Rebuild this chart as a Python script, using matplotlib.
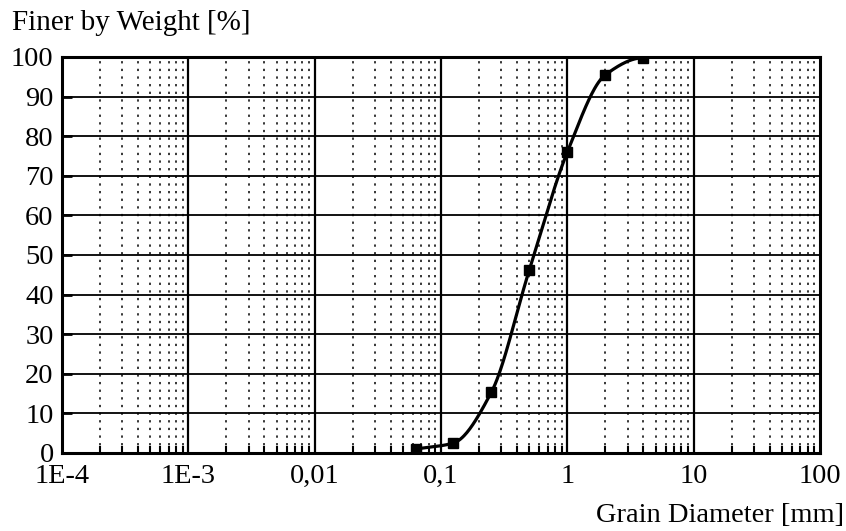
import numpy as np
import matplotlib.pyplot as plt
from matplotlib.ticker import FixedLocator, FixedFormatter, NullFormatter

plt.rcParams['font.family'] = ['Liberation Serif', 'DejaVu Serif']

# sieve data
grain_mm = [0.063, 0.125, 0.25, 0.5, 1.0, 2.0, 4.0]
finer_pct = [1.0, 2.5, 15.3, 46.2, 76.0, 95.5, 99.8]

x_ticks = [1e-4, 1e-3, 1e-2, 1e-1, 1, 10, 100]
x_labels = ["1E-4", "1E-3", "0,01", "0,1", "1", "10", "100"]
y_ticks = list(range(0, 101, 10))


def smooth_curve(xs, ys, n=40):
    """Monotone cubic (Fritsch-Carlson) through points in log-x space."""
    lx = np.log10(xs)
    y = np.asarray(ys, dtype=float)
    h = np.diff(lx)
    d = np.diff(y) / h
    m = np.zeros_like(y)
    m[0], m[-1] = d[0], 0.0
    for i in range(1, len(y) - 1):
        if d[i - 1] * d[i] <= 0:
            m[i] = 0
        else:
            w1 = 2 * h[i] + h[i - 1]
            w2 = h[i] + 2 * h[i - 1]
            m[i] = (w1 + w2) / (w1 / d[i - 1] + w2 / d[i])
    out_x, out_y = [], []
    for i in range(len(h)):
        t = np.linspace(0, 1, n)
        h00 = 2 * t**3 - 3 * t**2 + 1
        h10 = t**3 - 2 * t**2 + t
        h01 = -2 * t**3 + 3 * t**2
        h11 = t**3 - t**2
        yy = h00 * y[i] + h10 * h[i] * m[i] + h01 * y[i + 1] + h11 * h[i] * m[i + 1]
        out_x.extend(10 ** (lx[i] + t * h[i]))
        out_y.extend(yy)
    return np.array(out_x), np.array(out_y)


fig = plt.figure(figsize=(8.46, 5.31), dpi=100)
ax = fig.add_axes([62 / 846, 1 - 453 / 531, 758 / 846, 396 / 531])

ax.set_xscale('log')
ax.set_xlim(1e-4, 100)
ax.set_ylim(0, 100)

# grid
minors = [k * 10.0**e for e in range(-4, 2) for k in range(2, 10)]
for xv in x_ticks[1:-1]:
    ax.axvline(xv, color='black', lw=1.6, zorder=1)
for yv in y_ticks[1:-1]:
    ax.axhline(yv, color='black', lw=1.3, zorder=1)
for xv in minors:
    ax.axvline(xv, color='black', lw=1.1, ls=(0, (1.5, 3.5)), zorder=1)

cx, cy = smooth_curve(grain_mm, finer_pct)
ax.plot(cx, cy, color='black', lw=2.3, zorder=3)
ax.plot(grain_mm, finer_pct, ls='none', marker='s', ms=6.5, color='black', zorder=4)

ax.xaxis.set_major_locator(FixedLocator(x_ticks))
ax.xaxis.set_major_formatter(FixedFormatter(x_labels))
ax.xaxis.set_minor_locator(FixedLocator(minors))
ax.xaxis.set_minor_formatter(NullFormatter())
ax.set_yticks(y_ticks)

ax.tick_params(axis='x', which='major', direction='in', length=0, labelsize=20.5, pad=8)
ax.tick_params(axis='x', which='minor', direction='in', length=5, width=1.5)
ax.tick_params(axis='y', which='major', direction='in', length=7, width=2, labelsize=20.5, pad=6)
ax.tick_params(top=False, right=False)

for sp in ax.spines.values():
    sp.set_linewidth(2.2)
    sp.set_color('black')

fig.text(12 / 846, 1 - 30 / 531, "Finer by Weight [%]", fontsize=21, ha='left', va='baseline')
fig.text(844 / 846, 1 - 522 / 531, "Grain Diameter [mm]", fontsize=20.5, ha='right', va='baseline')

fig.savefig('out.png', dpi=100)
